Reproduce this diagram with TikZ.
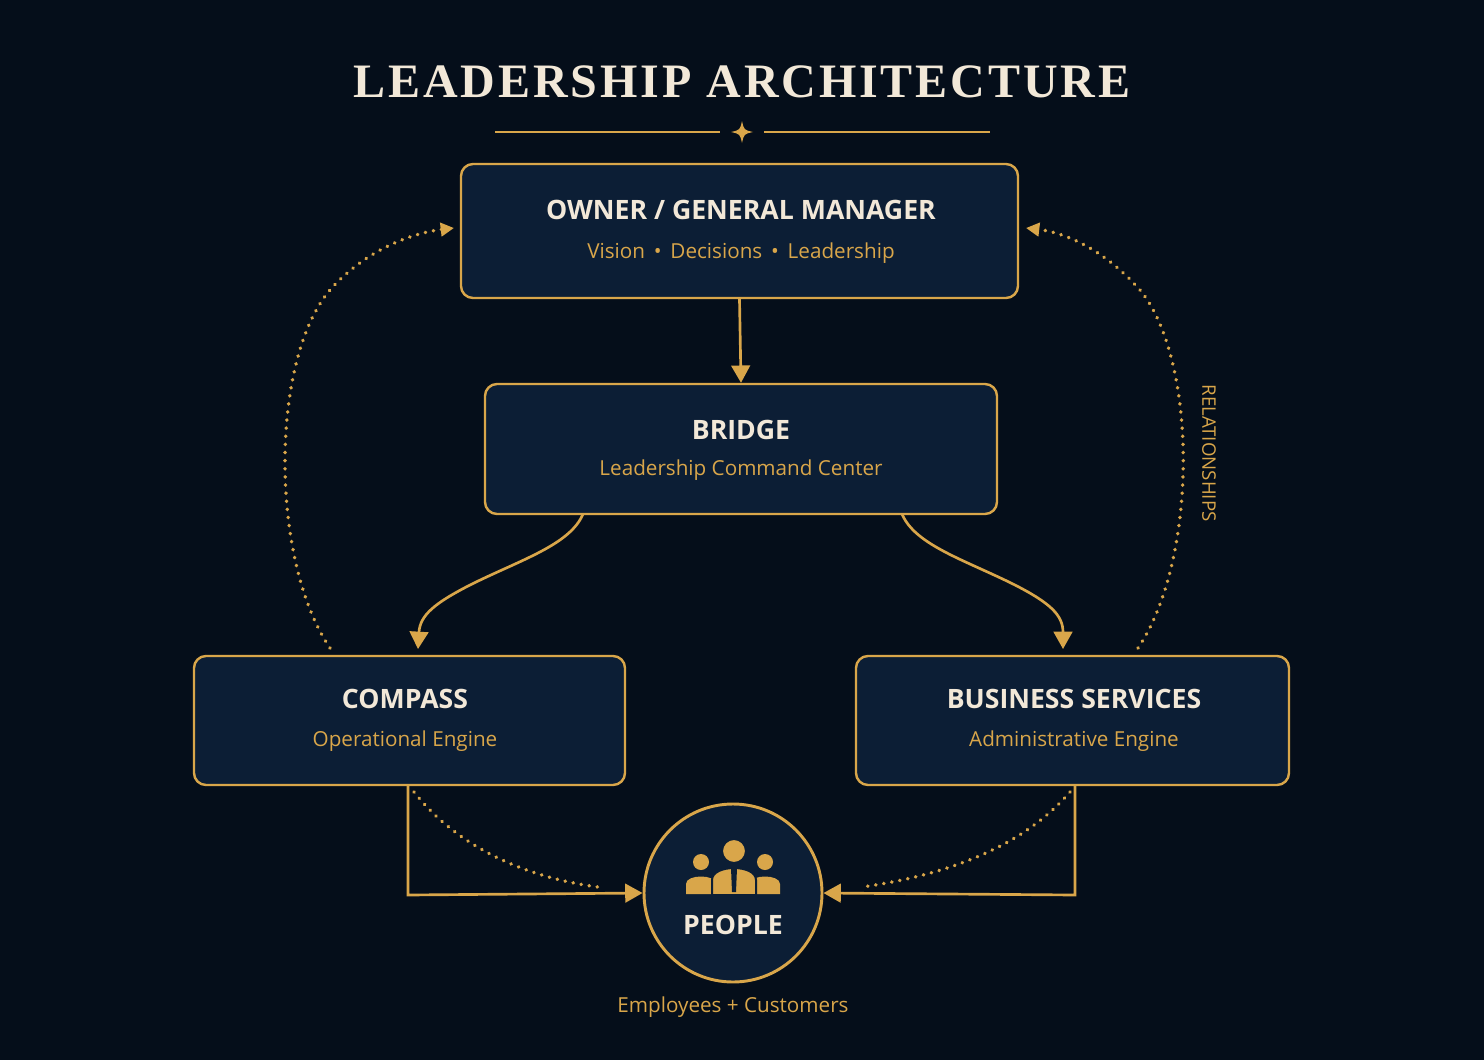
\documentclass[tikz,border=0pt]{standalone}
\usepackage{fontspec}
\setmainfont{Liberation Serif}
\newfontfamily\sansf{Open Sans}
\newfontfamily\titlef[LetterSpace=6]{Liberation Serif}
\usetikzlibrary{arrows.meta,shapes.geometric}
\definecolor{bg}{HTML}{050E1A}
\definecolor{boxfill}{HTML}{0C1E35}
\definecolor{gold}{HTML}{D9A64A}
\definecolor{cream}{HTML}{F2E8D8}
\tikzset{
  box/.style={draw=gold, line width=1.8pt, rounded corners=9pt, fill=boxfill},
  ttl/.style={text=cream, font=\sansf\bfseries\fontsize{20}{24}\selectfont},
  sub/.style={text=gold, font=\sansf\fontsize{15.5}{18}\selectfont},
  conn/.style={draw=gold, line width=2pt, -{Triangle[length=13pt,width=14pt]}},
  dots/.style={draw=gold, line width=2.8pt, dash pattern=on 0.1pt off 6pt, line cap=round},
  dotsa/.style={dots, -{Triangle[length=10pt,width=10pt]}},
}
\begin{document}
\begin{tikzpicture}[x=0.75pt,y=-0.75pt]
\fill[bg] (0,0) rectangle (1484,1060);
\useasboundingbox (0,0) rectangle (1484,1060);
% title
\node[text=cream, font=\titlef\bfseries\fontsize{36}{40}\selectfont] (title) at (742,82) {LEADERSHIP ARCHITECTURE};
\coordinate (oc) at (742,132);
\draw[gold, line width=1pt] (495,132) -- (720,132);
\draw[gold, line width=1pt] (764,132) -- (990,132);
\fill[gold] (742,121) .. controls (744,130) .. (753,132) .. controls (744,134) .. (742,143) .. controls (740,134) .. (731,132) .. controls (740,130) .. (742,121) -- cycle;
% boxes
\node[box, minimum width=557*0.75pt, minimum height=134*0.75pt] (own) at (739.5,231) {};
\node[ttl] at (741,210) {OWNER / GENERAL MANAGER};
\node[sub] at (741,253) {Vision \,•\, Decisions \,•\, Leadership};
\node[box, minimum width=512*0.75pt, minimum height=130*0.75pt] (bri) at (741,449) {};
\node[ttl] at (741,430) {BRIDGE};
\node[sub] at (741,470) {Leadership Command Center};
\node[box, minimum width=431*0.75pt, minimum height=129*0.75pt] (com) at (409.5,720.5) {};
\node[ttl] at (405,699) {COMPASS};
\node[sub] at (405,741) {Operational Engine};
\node[box, minimum width=433*0.75pt, minimum height=129*0.75pt] (bus) at (1072.5,720.5) {};
\node[ttl] at (1074,699) {BUSINESS SERVICES};
\node[sub] at (1074,741) {Administrative Engine};
% people
\node[circle, draw=gold, line width=2.2pt, fill=boxfill, minimum size=178*0.75pt] (ppl) at (733,893) {};
\node[ttl] at (733,925) {PEOPLE};
\node[sub] (emp) at (733,1007) {Employees + Customers};
% icon
\fill[gold] (701,862) circle (8);
\fill[gold] (765,862) circle (8);
\fill[gold] (686,894) -- (686,884) .. controls (686,874) and (716,874) .. (716,884) -- (716,894) -- cycle;
\fill[gold] (750,894) -- (750,884) .. controls (750,874) and (780,874) .. (780,884) -- (780,894) -- cycle;
\fill[gold,draw=boxfill,line width=1.5pt] (734,851) circle (12);
\fill[gold,draw=boxfill,line width=1.5pt] (712,895) -- (712,880) .. controls (712,864) and (756,864) .. (756,880) -- (756,895) -- cycle;
\fill[boxfill] (731,868) -- (737,868) -- (736,892) -- (732,892) -- cycle;
% connectors
\draw[conn] (own.south) -- (bri.north);
\coordinate (b1) at (583,514);
\coordinate (b2) at (902,514);
\coordinate (c1) at (418,649);
\coordinate (s1) at (1063,649);
\draw[conn] (b1) .. controls (570,545) and (520,560) .. (470,585) .. controls (435,603) and (420,615) .. (c1);
\draw[conn] (b2) .. controls (915,545) and (965,560) .. (1015,585) .. controls (1050,603) and (1063,615) .. (s1);
\coordinate (ca) at (408,785);
\coordinate (ba) at (1075,785);
\draw[conn] (ca) -- (408,895) -- (ppl.west);
\draw[conn] (ba) -- (1075,895) -- (ppl.east);
\coordinate (cd) at (414,792);
\coordinate (bd) at (1070,792);
\coordinate (pd1) at (598,887);
\coordinate (pd2) at (862,887);
\draw[dots] (cd) .. controls (460,850) and (530,878) .. (pd1);
\draw[dots] (bd) .. controls (1020,850) and (940,876) .. (pd2);
\coordinate (cl) at (330,648);
\coordinate (ol) at (454,228);
\coordinate (br) at (1138,648);
\coordinate (or) at (1026,228);
\draw[dotsa] (cl) .. controls (270,560) and (270,360) .. (330,290) .. controls (370,245) and (420,232) .. (ol);
\draw[dotsa] (br) .. controls (1198,560) and (1198,360) .. (1140,290) .. controls (1100,245) and (1060,232) .. (or);
\node[text=gold, font=\sansf\fontsize{14}{16}\selectfont, rotate=-90] (rel) at (1209,453) {RELATIONSHIPS};
\end{tikzpicture}
\end{document}
